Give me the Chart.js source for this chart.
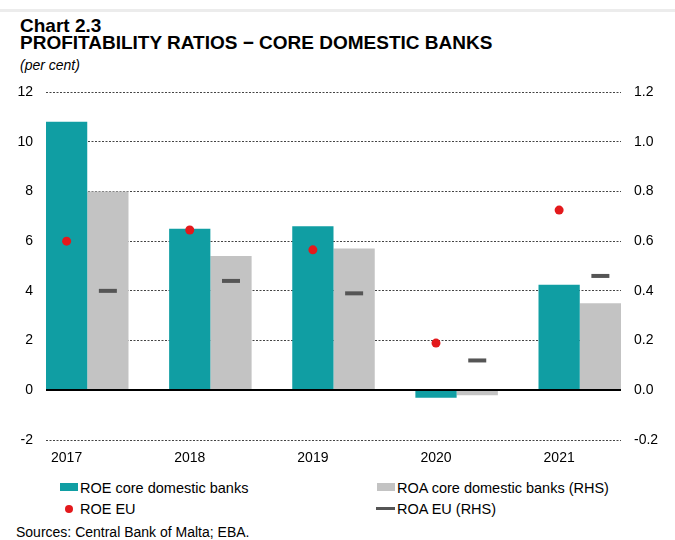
<!DOCTYPE html>
<html>
<head>
<meta charset="utf-8">
<script src="https://cdn.jsdelivr.net/npm/chart.js@4.4.1/dist/chart.umd.min.js"></script>
<style>
  body { margin: 0; background: #fff; font-family: "Liberation Sans", Arial, sans-serif; color: #000; }
  #wrap { position: relative; width: 675px; height: 540px; overflow: hidden; }
  #topline { position: absolute; left: 0; top: 9px; width: 675px; height: 3px; background: #ececec; }
  .t { position: absolute; left: 20px; white-space: nowrap; }
  #title { top: 18px; font-weight: bold; font-size: 19px; line-height: 16.6px; }
  #unit { top: 57px; font-style: italic; font-size: 14px; line-height: 16px; }
  canvas { position: absolute; left: 0; top: 0; }
  .lg { position: absolute; font-size: 14.5px; line-height: 16px; white-space: nowrap; }
  .mk { position: absolute; }
  #src { position: absolute; left: 16px; top: 524px; font-size: 14px; line-height: 16px; white-space: nowrap; }
</style>
</head>
<body>
<div id="wrap">
  <div id="topline"></div>
  <div class="t" id="title">Chart 2.3<br>PROFITABILITY RATIOS − CORE DOMESTIC BANKS</div>
  <div class="t" id="unit">(per cent)</div>
  <canvas id="chart" width="675" height="470"></canvas>
  <div id="legend"></div>
  <div id="src">Sources: Central Bank of Malta; EBA.</div>
</div>
<script>
const years = ['2017', '2018', '2019', '2020', '2021'];
const roeCore = [10.8, 6.5, 6.6, -0.3, 4.25];
const roaCore = [0.80, 0.54, 0.57, -0.02, 0.35];
const roeEu = [6.0, 6.45, 5.65, 1.9, 7.25];
const roaEu = [0.40, 0.44, 0.39, 0.12, 0.46];
const leftTicks = { min: -2, max: 12, step: 2 };
const rightTicks = { min: -0.2, max: 1.2, step: 0.2 };

const TEAL = '#109ea3';
const GREY = '#c3c3c3';
const RED = '#e3191c';
const DARK = '#555555';

// share of a category taken by the two bars; each bar is half of it
const GROUP = 0.67;
const barOffset = GROUP / 4;

const zeroLine = {
  id: 'zeroLine',
  afterDatasetsDraw(chart) {
    const { ctx, chartArea } = chart;
    const y = Math.round(chart.scales.y.getPixelForValue(0));
    ctx.save();
    ctx.strokeStyle = '#000';
    ctx.lineWidth = 2;
    ctx.beginPath();
    ctx.moveTo(chartArea.left, y);
    ctx.lineTo(chartArea.right, y);
    ctx.stroke();
    ctx.restore();
  }
};

const tickFont = { family: 'Liberation Sans', size: 14 };

const chart = new Chart(document.getElementById('chart'), {
  type: 'bar',
  data: {
    datasets: [
      {
        label: 'ROE core domestic banks',
        data: roeCore.map((v, i) => ({ x: i, y: v })),
        backgroundColor: TEAL,
        yAxisID: 'y',
        categoryPercentage: GROUP,
        barPercentage: 1,
        order: 2
      },
      {
        label: 'ROA core domestic banks (RHS)',
        data: roaCore.map((v, i) => ({ x: i, y: v })),
        backgroundColor: GREY,
        yAxisID: 'y1',
        categoryPercentage: GROUP,
        barPercentage: 1,
        order: 2
      },
      {
        type: 'scatter',
        label: 'ROE EU',
        data: roeEu.map((v, i) => ({ x: i - barOffset, y: v })),
        yAxisID: 'y',
        pointStyle: 'circle',
        pointRadius: 4.5,
        backgroundColor: RED,
        borderWidth: 0,
        order: 1
      },
      {
        type: 'scatter',
        label: 'ROA EU (RHS)',
        data: roaEu.map((v, i) => ({ x: i + barOffset, y: v })),
        yAxisID: 'y1',
        pointStyle: 'line',
        pointRadius: 9,
        borderColor: DARK,
        borderWidth: 4,
        order: 1
      }
    ]
  },
  options: {
    responsive: false,
    animation: false,
    events: [],
    devicePixelRatio: 1,
    layout: { padding: { top: 92, left: 0, right: 0, bottom: 0 } },
    plugins: {
      legend: { display: false },
      tooltip: { enabled: false }
    },
    scales: {
      x: {
        type: 'linear',
        position: 'bottom',
        offset: false,
        min: -GROUP / 2,
        max: years.length - 1 + GROUP / 2,
        grid: { display: false, drawTicks: false, offset: false },
        border: { display: false },
        afterBuildTicks: (axis) => {
          axis.ticks = years.map((_, i) => ({ value: i - barOffset }));
        },
        afterFit: (axis) => { axis.height = 30; },
        ticks: {
          autoSkip: false,
          maxRotation: 0,
          padding: 10,
          color: '#000',
          font: tickFont,
          callback: (v, i) => years[i]
        }
      },
      y: {
        position: 'left',
        min: leftTicks.min,
        max: leftTicks.max,
        afterFit: (axis) => { axis.width = 46; },
        grid: {
          drawTicks: false,
          color: (c) => (c.tick && c.tick.value === 0 ? 'rgba(0,0,0,0)' : '#444'),
          lineWidth: 1
        },
        border: { display: false, dash: [2, 1.5] },
        ticks: {
          stepSize: leftTicks.step,
          padding: 13,
          color: '#000',
          font: tickFont
        }
      },
      y1: {
        position: 'right',
        min: rightTicks.min,
        max: rightTicks.max,
        afterFit: (axis) => { axis.width = 54; },
        grid: { display: false, drawTicks: false },
        border: { display: false },
        ticks: {
          stepSize: rightTicks.step,
          padding: 13,
          color: '#000',
          font: tickFont,
          callback: (v) => (Math.abs(v) < 1e-9 ? 0 : v).toFixed(1)
        }
      }
    }
  },
  plugins: [zeroLine]
});

// legend in two columns, built from the chart's datasets
const legendSpots = [
  { col: 0, row: 0, kind: 'box' },
  { col: 1, row: 0, kind: 'box' },
  { col: 0, row: 1, kind: 'dot' },
  { col: 1, row: 1, kind: 'line' }
];
const colX = [60, 377];
const rowY = [487, 508.5];
const legend = document.getElementById('legend');
chart.data.datasets.forEach((ds, k) => {
  const spot = legendSpots[k];
  const x = colX[spot.col];
  const cy = rowY[spot.row];
  const mk = document.createElement('div');
  mk.className = 'mk';
  if (spot.kind === 'box') {
    Object.assign(mk.style, { left: x + 'px', top: (cy - 4) + 'px', width: '18px', height: '8px', background: ds.backgroundColor });
  } else if (spot.kind === 'dot') {
    Object.assign(mk.style, { left: (x + 4.5) + 'px', top: (cy - 3.5) + 'px', width: '8px', height: '8px', borderRadius: '50%', background: ds.backgroundColor });
  } else {
    Object.assign(mk.style, { left: (x - 1) + 'px', top: (cy - 1.5) + 'px', width: '19px', height: '3px', background: ds.borderColor });
  }
  legend.appendChild(mk);
  const tx = document.createElement('div');
  tx.className = 'lg';
  tx.textContent = ds.label;
  Object.assign(tx.style, { left: (x + 20) + 'px', top: (cy - 7.5) + 'px' });
  legend.appendChild(tx);
});
</script>
</body>
</html>
